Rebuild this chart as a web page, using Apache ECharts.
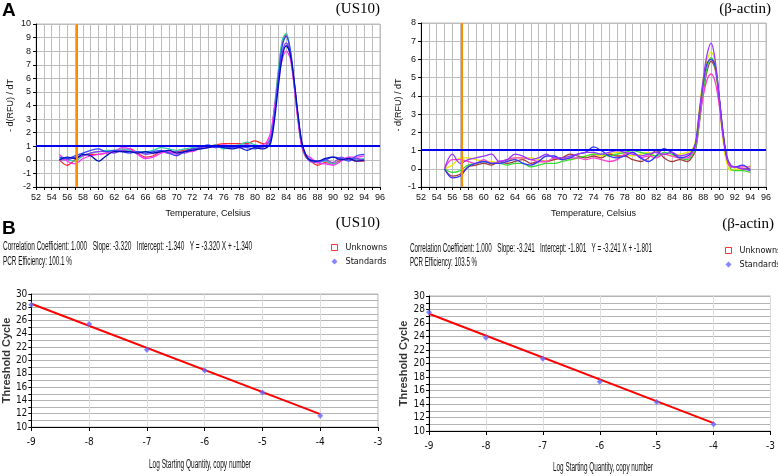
<!DOCTYPE html>
<html><head><meta charset="utf-8">
<script src="https://cdn.jsdelivr.net/npm/echarts@6/dist/echarts.min.js"></script>
<style>html,body{margin:0;padding:0;background:#fff}#c{width:778px;height:476px}</style>
</head><body><div id="c"></div>
<script>
// ---------- Data ----------
const tempUS10 = [55,56,57,58,59,60,61,62,63,64,65,66,67,68,69,70,71,72,73,74,75,76,77,78,79,80,81,81.5,82,82.5,83,83.5,84,84.5,85,85.5,86,86.5,87,88,89,90,91,92,93,94];
const us10Red     = [0.0,-0.4,0.0,0.3,0.4,0.4,0.5,0.6,0.7,0.8, 0.5,0.2,0.3,0.6,0.5,0.6,0.7,0.8,0.9,1.0, 1.1,1.2,1.2,1.2,1.2,1.4,1.2, 1.2,1.6,3.8,6.4,8.6,9.2,8.0,5.6,3.0,1.0,0.2,0.0, -0.4,-0.2,-0.3,0.0,0.1,-0.1,-0.1];
const us10Teal    = [0.1,0.0,-0.1,0.3,0.5,0.6,0.7,0.7,0.8,0.7, 0.6,0.6,0.7,0.9,0.8,0.7,0.8,0.9,1.0,0.9, 1.1,0.8,1.0,1.1,1.3,1.1,1.0, 1.1,1.7,3.9,6.6,8.8,9.3,8.1,5.7,3.2,1.1,0.3,0.1, -0.2,-0.1,-0.3,-0.1,0.2,0.0,0.1];
const us10Blue    = [0.2,0.1,0.3,0.5,0.7,0.8,0.6,0.7,0.6,0.5, 0.6,0.5,0.6,0.7,0.5,0.3,0.6,0.8,0.9,1.1, 0.9,1.0,0.9,1.0,0.9,0.8,1.0, 1.0,1.4,3.3,6.0,8.4,9.1,8.2,5.9,3.3,1.2,0.3,0.0, -0.1,0.0,0.2,0.1,-0.1,0.3,0.4];
const us10Navy    = [0.0,0.2,0.1,0.4,0.3,-0.1,0.3,0.6,0.6,0.6, 0.5,0.6,0.5,0.6,0.7,0.5,0.6,0.7,0.8,0.9, 1.0,0.9,0.8,0.9,0.7,0.9,0.8, 0.9,1.2,2.9,5.4,7.6,8.4,7.8,5.9,3.4,1.3,0.4,0.0, -0.1,0.1,0.2,0.0,0.1,-0.1,0.0];
const us10Magenta = [0.4,-0.1,-0.3,0.1,0.3,0.4,0.5,0.6,0.9,0.8, 0.4,0.1,0.2,0.5,0.6,0.4,0.6,0.6,0.9,1.0, 0.9,1.1,1.0,0.9,1.0,1.0,1.1, 1.3,2.0,3.8,5.8,7.4,8.0,7.5,5.5,3.0,1.0,0.4,0.2, -0.2,-0.3,-0.4,-0.1,0.2,0.2,0.3];
const us10Purple  = [0.0,0.0,0.2,0.3,0.5,0.6,0.6,0.5,0.7,0.6, 0.6,0.4,0.5,0.6,0.5,0.6,0.5,0.7,0.8,0.9, 1.0,1.0,0.9,1.0,1.1,1.0,0.9, 1.1,1.6,3.5,6.0,7.9,8.6,7.9,5.7,3.2,1.1,0.3,-0.1, -0.2,0.0,-0.2,0.2,0.0,0.1,-0.1];

const tempActin = [55,56,57,58,59,60,61,62,63,64,65,66,67,68,69,70,71,72,73,74,75,76,77,78,79,80,81,82,83,84,85,86,86.5,87,87.5,88,88.5,89,89.5,90,90.5,91,91.5,92,93,94];
const actPurple  = [0.0,0.8,0.3,0.5,0.6,0.7,0.8,0.4,0.5,0.8, 0.7,0.5,0.6,0.8,0.6,0.6,0.7,0.8,0.9,0.9, 0.8,0.9,1.0,0.9,0.8,0.7,0.8,0.9,0.8,0.9, 0.7,0.8, 0.9,1.3,3.0,4.9,6.3,6.9,6.0,4.0,1.9,0.6,0.2, 0.1,0.0,-0.1];
const actYellow  = [0.0,0.2,0.6,0.6,0.5,0.4,0.4,0.3,0.4,0.6, 0.6,0.6,0.5,0.4,0.5,0.6,0.5,0.6,0.7,0.8, 0.7,0.8,0.9,0.8,0.7,0.8,0.9,0.7,0.8,0.7, 0.8,0.9, 1.0,1.5,3.3,5.0,6.0,6.4,5.8,3.8,1.6,0.3,-0.1, 0.0,-0.1,0.2];
const actGreen   = [0.0,-0.2,-0.1,0.2,0.3,0.4,0.3,0.3,0.2,0.3, 0.3,0.1,0.2,0.3,0.3,0.4,0.5,0.6,0.7,0.8, 0.8,0.7,0.8,0.9,1.0,0.9,0.8,0.7,0.9,0.8, 0.6,0.5, 0.7,1.1,2.6,4.3,5.6,6.1,5.6,4.0,2.0,0.6,0.0, -0.1,-0.1,-0.2];
const actBrown   = [0.0,-0.4,-0.3,0.1,0.2,0.3,0.2,0.4,0.3,0.4, 0.5,0.3,0.4,0.4,0.5,0.6,0.8,0.7,0.6,0.7, 0.6,0.8,0.7,0.7,0.5,0.4,0.6,1.0,0.6,0.4, 0.5,0.4, 0.6,1.0,2.5,4.2,5.4,5.9,5.5,4.0,2.0,0.6,0.1, 0.1,0.0,0.0];
const actMagenta = [0.0,0.5,0.5,0.4,0.3,0.5,0.3,0.4,0.5,0.6, 0.6,0.5,0.4,0.4,0.6,0.5,0.6,0.6,0.5,0.6, 0.5,0.4,0.5,0.8,0.9,0.6,0.7,0.6,0.8,0.7, 0.6,0.6, 0.8,1.3,2.8,4.0,4.9,5.2,4.8,3.6,1.9,0.6,0.1, 0.1,0.1,0.1];
const actBlue    = [0.0,-0.5,-0.4,0.1,0.3,0.4,0.3,0.3,0.4,0.5, 0.3,0.2,0.4,0.7,0.7,0.5,0.6,0.8,0.9,1.2, 1.0,0.7,0.6,0.7,0.9,0.6,0.4,0.7,1.1,0.9, 0.6,0.7, 0.9,1.4,3.1,4.7,5.8,6.0,5.7,4.1,2.1,0.7,0.2, 0.1,0.2,-0.1];

const thresholdUS10 = 1.05, thresholdActin = 1.05;
const startUS10 = 57.2, startActin = 57.15;

const logQty   = [-9,-8,-7,-6,-5,-4];
const ctUS10   = [28.4,25.5,21.6,18.5,15.2,11.7];
const ctActin  = [27.6,23.8,20.7,17.3,14.3,11.0];
const fitX     = [-9,-4];
const fitUS10  = [28.54,11.94];
const fitActin = [27.37,11.16];

const statsUS10  = ['Correlation Coefficient: 1.000   Slope: -3.320   Intercept: -1.340   Y = -3.320 X + -1.340', 'PCR Efficiency: 100.1 %'];
const statsActin = ['Correlation Coefficient: 1.000   Slope: -3.241   Intercept: -1.801   Y = -3.241 X + -1.801', 'PCR Efficiency: 103.5 %'];

// ---------- Helpers ----------
const zip = (xs, ys) => xs.map((x, i) => [x, ys[i]]);
const NARROW = '"Liberation Sans Narrow","DejaVu Sans Condensed","Liberation Sans",sans-serif';
const SANS = '"Liberation Sans",Arial,sans-serif';
const SERIF = '"Liberation Serif","DejaVu Serif",serif';
const mctx = document.createElement('canvas').getContext('2d');
function fitText(text, x, y, w, size, family, weight, align) {
  const fontStr = (weight || 'normal') + ' ' + size + 'px ' + family;
  mctx.font = fontStr;
  const s = w / mctx.measureText(text).width;
  return {type:'text', x:x, y:y, scaleX:s, silent:true,
    style:{text:text, fontSize:size, fontFamily:family, fontWeight:weight||'normal', fill:'#111',
           textAlign:align||'left', textVerticalAlign:'middle'}};
}
function plainText(text, x, y, size, family, weight, align) {
  return {type:'text', x:x, y:y, silent:true,
    style:{text:text, fontSize:size, fontFamily:family, fontWeight:weight||'normal', fill:'#000',
           textAlign:align||'left', textVerticalAlign:'middle'}};
}

const gridLine = {show:true, lineStyle:{color:'#bdbdbd', width:1}};
function meltX(idx) {
  return {type:'value', gridIndex:idx, min:52, max:96, interval:1,
    name:'Temperature, Celsius', nameLocation:'middle', nameGap:22,
    nameTextStyle:{fontSize:9, fontFamily:SANS, color:'#111'},
    axisLine:{onZero:false, lineStyle:{color:'#000'}},
    axisTick:{length:3, lineStyle:{color:'#000'}},
    axisLabel:{fontSize:9, fontFamily:SANS, color:'#111', margin:6, formatter:v => (v % 2 === 0 ? v : '')},
    splitLine:gridLine};
}
function meltY(idx, min, max, gap) {
  return {type:'value', gridIndex:idx, min:min, max:max, interval:1,
    name:'- d(RFU) / dT', nameLocation:'middle', nameGap:gap, nameRotate:90,
    nameTextStyle:{fontSize:9, fontFamily:SANS, color:'#111'},
    axisLine:{show:true, onZero:false, lineStyle:{color:'#000'}},
    axisTick:{show:true, length:3, lineStyle:{color:'#000'}},
    axisLabel:{fontSize:9, fontFamily:SANS, color:'#111', margin:5},
    splitLine:gridLine};
}
function stdX(idx) {
  return {type:'value', gridIndex:idx, min:-9, max:-3, interval:1,
    axisLine:{onZero:false, lineStyle:{color:'#000'}},
    axisTick:{length:4, lineStyle:{color:'#000'}},
    axisLabel:{fontSize:10, fontFamily:NARROW, color:'#111', margin:10},
    splitLine:{show:true, lineStyle:{color:'#dcdcdc', width:1}}};
}
function stdY(idx, gap) {
  return {type:'value', gridIndex:idx, min:10, max:30, interval:1,
    name:'Threshold Cycle', nameLocation:'middle', nameGap:gap, nameRotate:90,
    nameTextStyle:{fontSize:11, fontFamily:SANS, fontWeight:'bold', color:'#333'},
    axisLine:{show:true, onZero:false, lineStyle:{color:'#000'}},
    axisTick:{show:true, length:3, lineStyle:{color:'#000'}},
    axisLabel:{fontSize:10, fontFamily:NARROW, color:'#111', margin:4, formatter:v => (v % 2 === 0 ? v : '')},
    splitLine:{show:true, lineStyle:{color:'#b4b4b4', width:1}}};
}
function melt(name, xs, ys, color, gi) {
  return {type:'line', name:name, xAxisIndex:gi, yAxisIndex:gi, data:zip(xs, ys), smooth:0.35,
    showSymbol:false, silent:true, lineStyle:{color:color, width:1.3}, itemStyle:{color:color}, z:3};
}
function guides(gi, xv, yv) {
  return {type:'line', xAxisIndex:gi, yAxisIndex:gi, data:[], silent:true,
    markLine:{symbol:'none', silent:true, animation:false, label:{show:false},
      data:[{xAxis:xv, lineStyle:{color:'#ff8c00', width:2, type:'solid'}},
            {yAxis:yv, lineStyle:{color:'#0000ee', width:2, type:'solid'}}]}, z:4};
}

const legendData = [
  {name:'Unknowns', icon:'rect', itemStyle:{color:'#fff', borderColor:'#ff0000', borderWidth:1}},
  {name:'Standards', icon:'diamond', itemStyle:{color:'#6666ff'}}
];
function legendAt(left, top) {
  return {left:left, top:top, orient:'vertical', itemGap:5, itemWidth:6, itemHeight:6, selectedMode:false, padding:0,
    data:legendData, textStyle:{fontSize:9, fontFamily:NARROW, color:'#111', padding:[0,0,0,3]}};
}

const option = {
  animation:false,
  backgroundColor:'#fff',
  grid:[
    {left:36, top:24, width:344, height:163, show:true, borderColor:'#bdbdbd', borderWidth:1},
    {left:421, top:23, width:345, height:164, show:true, borderColor:'#bdbdbd', borderWidth:1},
    {left:22, top:294, width:356, height:133, show:true, borderColor:'#b4b4b4', borderWidth:1},
    {left:429, top:296, width:347, height:135, show:true, borderColor:'#b4b4b4', borderWidth:1}
  ],
  xAxis:[meltX(0), meltX(1), stdX(2), stdX(3)],
  yAxis:[meltY(0,-2,10,21), meltY(1,-1,8,18), stdY(2,14), stdY(3,16)],
  legend:[legendAt(331,243), legendAt(725,246)],
  series:[
    melt('r', tempUS10, us10Red, '#ff2b2b', 0),
    melt('t', tempUS10, us10Teal, '#33ccaa', 0),
    melt('p', tempUS10, us10Purple, '#8a3df0', 0),
    melt('m', tempUS10, us10Magenta, '#ff33ff', 0),
    melt('b', tempUS10, us10Blue, '#3344ff', 0),
    melt('n', tempUS10, us10Navy, '#0010b8', 0),
    guides(0, startUS10, thresholdUS10),
    melt('y', tempActin, actYellow, '#e8e800', 1),
    melt('br', tempActin, actBrown, '#a33a3a', 1),
    melt('g', tempActin, actGreen, '#33dd33', 1),
    melt('mg', tempActin, actMagenta, '#ff3ccc', 1),
    melt('bl', tempActin, actBlue, '#3333ff', 1),
    melt('pu', tempActin, actPurple, '#9933ff', 1),
    guides(1, startActin, thresholdActin),
    {type:'line', name:'fit1', xAxisIndex:2, yAxisIndex:2, data:zip(fitX, fitUS10), showSymbol:false, silent:true,
      lineStyle:{color:'#ff0000', width:2}, z:3},
    {type:'scatter', name:'Standards', xAxisIndex:2, yAxisIndex:2, data:zip(logQty, ctUS10), symbol:'diamond', symbolSize:6,
      itemStyle:{color:'#6666ff'}, z:4},
    {type:'scatter', name:'Unknowns', xAxisIndex:2, yAxisIndex:2, data:[], symbol:'rect', itemStyle:{color:'#ff0000'}},
    {type:'line', name:'fit2', xAxisIndex:3, yAxisIndex:3, data:zip(fitX, fitActin), showSymbol:false, silent:true,
      lineStyle:{color:'#ff0000', width:2}, z:3},
    {type:'scatter', name:'Standards', xAxisIndex:3, yAxisIndex:3, data:zip(logQty, ctActin), symbol:'diamond', symbolSize:6,
      itemStyle:{color:'#6666ff'}, z:4},
    {type:'scatter', name:'Unknowns', xAxisIndex:3, yAxisIndex:3, data:[], symbol:'rect', itemStyle:{color:'#ff0000'}}
  ],
  graphic:[
    plainText('A', 2, 11, 19, SANS, 'bold'),
    plainText('B', 2, 229, 19, SANS, 'bold'),
    plainText('(US10)', 380, 9, 15, SERIF, 'normal', 'right'),
    plainText('(\u03b2-actin)', 771, 9, 15, SERIF, 'normal', 'right'),
    plainText('(US10)', 380, 223, 15, SERIF, 'normal', 'right'),
    plainText('(\u03b2-actin)', 774, 224, 15, SERIF, 'normal', 'right'),
    fitText(statsUS10[0], 3, 247, 249, 12.5, SANS),
    fitText(statsUS10[1], 3, 262, 69, 12.5, SANS),
    fitText(statsActin[0], 410, 249, 242, 12.5, SANS),
    fitText(statsActin[1], 410, 263, 67, 12.5, SANS),
    fitText('Log Starting Quantity, copy number', 200, 465, 102, 12, SANS, 'normal', 'center'),
    fitText('Log Starting Quantity, copy number', 603, 468, 100, 12, SANS, 'normal', 'center')
  ]
};
const chart = echarts.init(document.getElementById('c'));
chart.setOption(option);
</script></body></html>
